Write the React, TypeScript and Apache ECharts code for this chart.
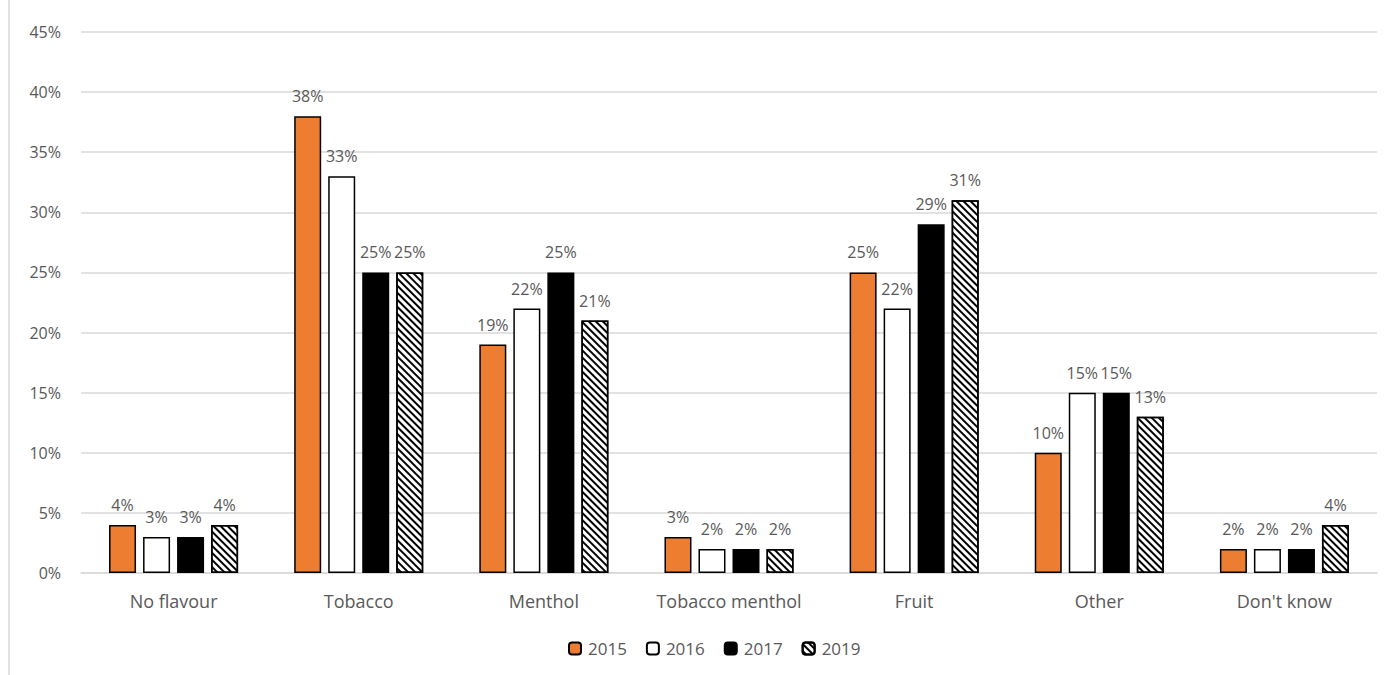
import React, { useEffect, useRef } from "react";
import * as echarts from "echarts";

const categories = ["No flavour", "Tobacco", "Menthol", "Tobacco menthol", "Fruit", "Other", "Don't know"];
const years = ["2015", "2016", "2017", "2019"];
const values2015 = [4, 38, 19, 3, 25, 10, 2];
const values2016 = [3, 33, 22, 2, 22, 15, 2];
const values2017 = [3, 25, 25, 2, 29, 15, 2];
const values2019 = [4, 25, 21, 2, 31, 13, 4];
const yTicks = [0, 5, 10, 15, 20, 25, 30, 35, 40, 45];

const FONT = "'Open Sans', 'Noto Sans', sans-serif";
const TEXT = "#595959";

export default function App() {
  const ref = useRef<HTMLDivElement>(null);

  useEffect(() => {
    if (!ref.current) return;
    const chart = echarts.init(ref.current, undefined, { renderer: "svg" });

    // fine diagonal hatching for the 2019 bars
    const hatch = {
      symbol: "rect",
      color: "#000000",
      backgroundColor: "#ffffff",
      dashArrayX: [1, 0],
      dashArrayY: [1.2, 2.4],
      symbolSize: 1,
      rotation: Math.PI / 4,
    };

    const styles = [
      { color: "#ED7D31" },
      { color: "#ffffff" },
      { color: "#000000" },
      { color: "#ffffff", decal: hatch },
    ];
    const seriesValues = [values2015, values2016, values2017, values2019];

    chart.setOption({
      animation: false,
      textStyle: { fontFamily: FONT },
      grid: { left: 81, right: 15, top: 32, bottom: 102, containLabel: false },
      legend: {
        top: 635,
        left: 563,
        itemWidth: 12,
        itemHeight: 12,
        itemGap: 19,
        textStyle: { color: TEXT, fontSize: 17, fontFamily: FONT, padding: [0, 0, 0, 2] },
        data: years,
      },
      xAxis: {
        type: "category",
        data: categories,
        axisTick: { show: false },
        axisLine: { lineStyle: { color: "#d9d9d9", width: 1.5 } },
        axisLabel: { color: TEXT, fontSize: 18, margin: 19, interval: 0, fontFamily: FONT },
      },
      yAxis: {
        type: "value",
        min: yTicks[0],
        max: yTicks[yTicks.length - 1],
        interval: 5,
        axisLine: { show: false },
        axisTick: { show: false },
        splitLine: { lineStyle: { color: "#d9d9d9", width: 1.5 } },
        axisLabel: { color: TEXT, fontSize: 16, margin: 20, formatter: "{value}%", fontFamily: FONT },
      },
      series: years.map((y, i) => ({
        name: y,
        type: "bar",
        data: seriesValues[i],
        barWidth: 27,
        barGap: "26%",
        itemStyle: { ...styles[i], borderColor: "#000000", borderWidth: 1.5 },
        label: {
          show: true,
          position: "top",
          distance: 12,
          formatter: "{c}%",
          color: TEXT,
          fontSize: 16,
          fontFamily: FONT,
        },
      })),
      graphic: [
        {
          type: "line",
          shape: { x1: 9, y1: 0, x2: 9, y2: 675 },
          style: { stroke: "#d9d9d9", lineWidth: 1.5 },
        },
      ],
    });

    return () => chart.dispose();
  }, []);

  return (
    <div
      ref={ref}
      style={{ position: "fixed", left: 0, top: 0, width: 1392, height: 675, background: "#ffffff" }}
    />
  );
}
